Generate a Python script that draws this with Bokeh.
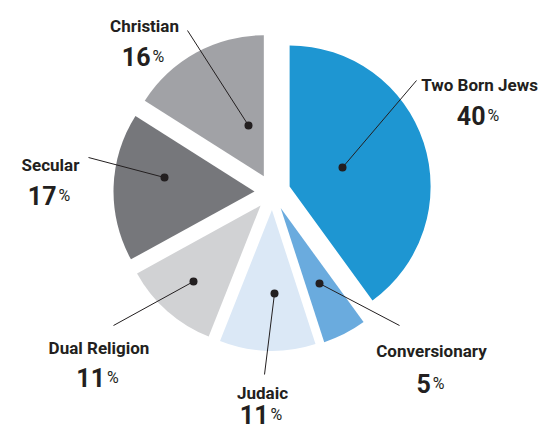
import math
from bokeh.plotting import figure
from bokeh.models import ColumnDataSource, Range1d
from bokeh.core.properties import value
from bokeh.embed import file_html
from bokeh.resources import INLINE

# ---- data ----
categories = ["Two Born Jews", "Conversionary", "Judaic", "Dual Religion", "Secular", "Christian"]
percents = [40, 5, 11, 11, 17, 16]
colors = ["#1e96d2", "#6aabde", "#dbe8f6", "#d1d2d4", "#76777b", "#a1a2a6"]

# ---- layout (picture pixel coords) ----
# name centre x, name baseline y, number baseline y, dot x, dot y, leader end x, leader end y
label_layout = [
    (479, 92, 123, 342, 175, 416, 88),
    (431, 358, 391, 319, 291, 399, 333),
    (262, 400, 422, 274, 301, 264, 382),
    (98.5, 355, 385, 193, 289, 113, 333),
    (50, 172, 203, 164, 185, 88, 165),
    (144, 33, 64, 248, 133, 187, 38),
]

W, H = 539, 431
TOP = 8


def Y(py):
    return TOP + H - py


CX, CY = 272, Y(199.5)
R = 141
EXPLODE = 18
FONT = "Roboto"
TXT = "#231f20"

p = figure(width=W, height=H, x_range=Range1d(0, W), y_range=Range1d(Y(TOP + H), Y(TOP)),
           output_backend="svg", toolbar_location=None, min_border=0)
p.xaxis.visible = False
p.yaxis.visible = False
p.xgrid.visible = False
p.ygrid.visible = False
p.outline_line_color = None
p.background_fill_color = "white"

xs, ys, sa, ea = [], [], [], []
cum = 0.0
for v in percents:
    t0 = cum * 3.6
    t1 = (cum + v) * 3.6
    tm = math.radians((t0 + t1) / 2)
    xs.append(CX + EXPLODE * math.sin(tm))
    ys.append(CY + EXPLODE * math.cos(tm))
    sa.append(math.radians(90 - t1))
    ea.append(math.radians(90 - t0))
    cum += v

src = ColumnDataSource(dict(x=xs, y=ys, start=sa, end=ea, color=colors, cat=categories))
p.wedge(x="x", y="y", radius=R, start_angle="start", end_angle="end",
        fill_color="color", line_color=None, source=src)

# leaders and dots
p.segment(x0=[l[3] for l in label_layout], y0=[Y(l[4]) for l in label_layout],
          x1=[l[5] for l in label_layout], y1=[Y(l[6]) for l in label_layout],
          line_color=TXT, line_width=1)
p.scatter(x=[l[3] for l in label_layout], y=[Y(l[4]) for l in label_layout],
          size=8, color=TXT, line_color=None)

# names
p.text(x=[l[0] for l in label_layout], y=[Y(l[1]) for l in label_layout], text=categories,
       text_align="center", text_baseline="alphabetic", text_font=value(FONT),
       text_font_style="bold", text_font_size="17px", text_color=TXT)

# numbers: digits + small percent sign
DIGIT_W = 13.5
PCT_W = 13
GAP = 2
dx, dy, dt, px, py_ = [], [], [], [], []
for l, v in zip(label_layout, percents):
    s = str(v)
    wgroup = len(s) * DIGIT_W + GAP + PCT_W
    split = l[0] - wgroup / 2 + len(s) * DIGIT_W
    dx.append(split)
    dy.append(Y(l[2]))
    dt.append(s)
    px.append(split + GAP)
    py_.append(Y(l[2]))
p.text(x=dx, y=dy, text=dt, text_align="right", text_baseline="alphabetic",
       text_font=value(FONT), text_font_style="bold", text_font_size="25px", text_color=TXT)
p.text(x=px, y=py_, text=["%"] * len(px), text_align="left", text_baseline="alphabetic",
       text_font=value(FONT), text_font_style="normal", text_font_size="16px", text_color=TXT)

open("out.html", "w").write(file_html(p, INLINE))
